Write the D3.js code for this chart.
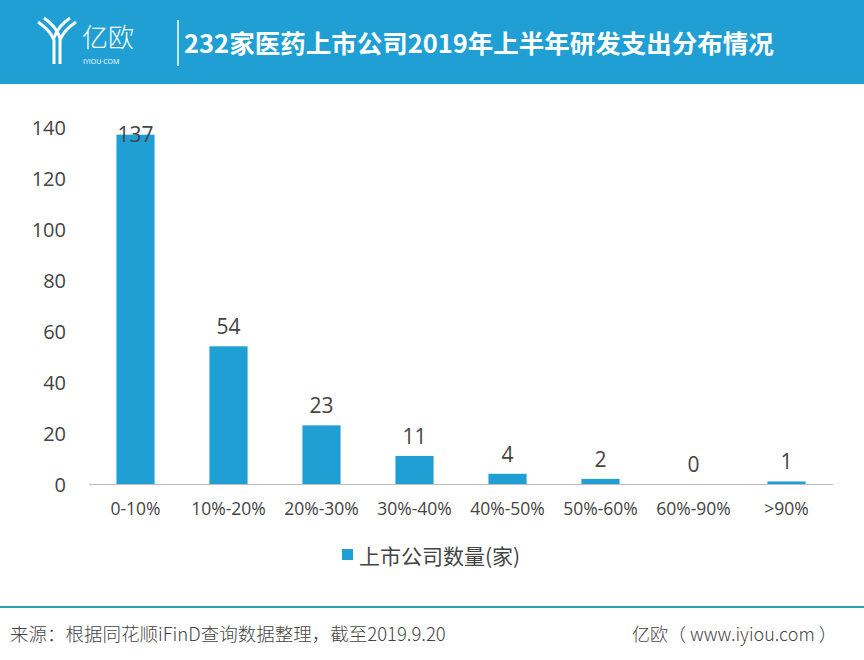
<!DOCTYPE html>
<html><head><meta charset="utf-8">
<script src="https://cdn.jsdelivr.net/npm/d3@7"></script>
<style>body{margin:0;background:#fff;font-family:"Noto Sans CJK SC","Open Sans",sans-serif}</style>
</head><body>
<svg id="c" width="864" height="660"></svg>
<script>
var categories = ["0-10%", "10%-20%", "20%-30%", "30%-40%", "40%-50%", "50%-60%", "60%-90%", ">90%"];
var counts = [137, 54, 23, 11, 4, 2, 0, 1];
var yTicks = [0, 20, 40, 60, 80, 100, 120, 140];

var svg = d3.select("#c");
var font = "'Noto Sans CJK SC', 'Open Sans', sans-serif";

// header
svg.append("rect").attr("x", 0).attr("y", 0).attr("width", 864).attr("height", 84).style("fill", "#1f9fd4");
var logo = svg.append("g").attr("transform", "translate(36,16)").style("fill", "none").style("stroke", "#fff").style("stroke-width", 3);
logo.append("path").attr("d", "M2,6 Q14,14 18,24 L18,48");
logo.append("path").attr("d", "M8,2 Q20,10 24,22 L24,48");
logo.append("path").attr("d", "M40,6 Q28,14 24,24");
logo.append("path").attr("d", "M34,2 Q22,10 18,22");
svg.append("text").attr("x", 82).attr("y", 47).text("亿欧").style("fill", "#fff").style("font-size", "26px").style("font-family", font).style("font-weight", 300);
svg.append("text").attr("x", 83).attr("y", 64).text("IYIOU·COM").style("fill", "#fff").style("font-size", "7px").style("font-family", "'Open Sans'");
svg.append("line").attr("x1", 178).attr("x2", 178).attr("y1", 20).attr("y2", 66).style("stroke", "#fff").style("stroke-width", 1.5);
svg.append("text").attr("x", 184).attr("y", 53).text("232家医药上市公司2019年上半年研发支出分布情况")
  .style("fill", "#fff").style("font-size", "25.5px").style("font-weight", "bold").style("font-family", font);

// chart
var x = d3.scaleBand().domain(categories).range([89, 833]).paddingInner(0.59).paddingOuter(0.295);
var y = d3.scaleLinear().domain([0, 140]).range([484, 127]);

svg.append("g").selectAll("text").data(yTicks).enter().append("text")
  .attr("x", 66).attr("y", function(d) { return y(d) + 8; })
  .attr("text-anchor", "end").text(function(d) { return d; })
  .style("font-size", "20px").style("fill", "#444").style("font-family", "'Open Sans'");

svg.append("g").selectAll("rect").data(counts).enter().append("rect")
  .attr("x", function(d, i) { return x(categories[i]); })
  .attr("y", function(d) { return y(d); })
  .attr("width", x.bandwidth())
  .attr("height", function(d) { return 484 - y(d); })
  .style("fill", "#1f9fd4");

svg.append("line").attr("x1", 89).attr("x2", 833).attr("y1", 484.5).attr("y2", 484.5).style("stroke", "#bbb");

svg.append("g").selectAll("text").data(counts).enter().append("text")
  .attr("x", function(d, i) { return x(categories[i]) + x.bandwidth() / 2; })
  .attr("y", function(d) { return Math.max(y(d) - 12, 142); })
  .attr("text-anchor", "middle").text(function(d) { return d; })
  .style("font-size", "21px").style("fill", "#444").style("font-family", "'Open Sans'");

svg.append("g").selectAll("text").data(categories).enter().append("text")
  .attr("x", function(d) { return x(d) + x.bandwidth() / 2; })
  .attr("y", 515).attr("text-anchor", "middle").text(function(d) { return d; })
  .style("font-size", "17.5px").style("fill", "#444").style("font-family", "'Open Sans'");

// legend
svg.append("rect").attr("x", 342).attr("y", 549).attr("width", 11).attr("height", 11).style("fill", "#1f9fd4");
svg.append("text").attr("x", 359).attr("y", 564).text("上市公司数量(家)")
  .style("font-size", "21px").style("fill", "#444").style("font-family", font);

// footer
svg.append("line").attr("x1", 0).attr("x2", 864).attr("y1", 607).attr("y2", 607).style("stroke", "#2aa3a8").style("stroke-width", 2);
svg.append("text").attr("x", 10).attr("y", 641).text("来源：根据同花顺iFinD查询数据整理，截至2019.9.20")
  .style("font-size", "18.5px").style("fill", "#444").style("font-family", font).style("font-weight", 300);
svg.append("text").attr("x", 632).attr("y", 641).text("亿欧（ www.iyiou.com ）")
  .style("font-size", "18px").style("fill", "#444").style("font-family", font).style("font-weight", 300);
</script>
</body></html>
